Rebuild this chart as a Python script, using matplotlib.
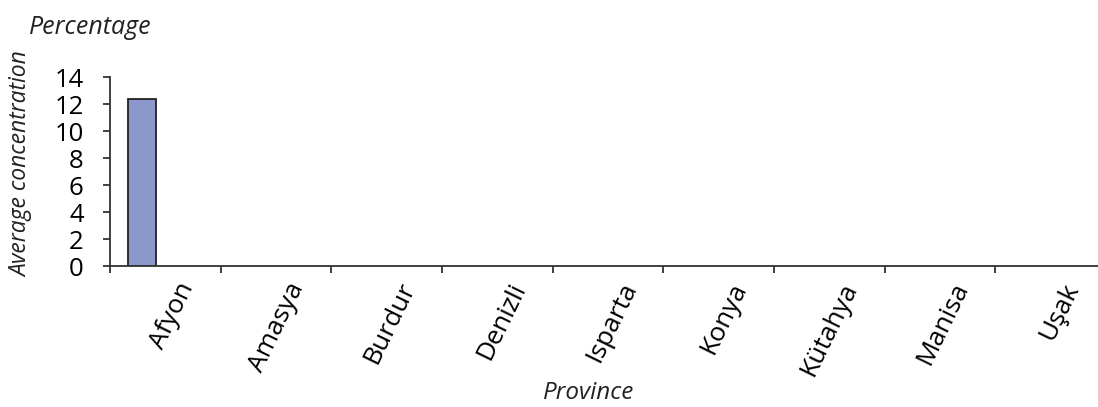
import matplotlib
matplotlib.use('Agg')
import matplotlib.pyplot as plt
import matplotlib.transforms as mtransforms
import numpy as np

provinces = ["Afyon", "Amasya", "Burdur", "Denizli", "Isparta", "Konya", "Kütahya", "Manisa", "Uşak"]
concentration = [12.4, 0, 0, 0, 0, 0, 0, 0, 0]
y_ticks = [0, 2, 4, 6, 8, 10, 12, 14]

plt.rcParams['font.family'] = ['Open Sans', 'DejaVu Sans']

fig = plt.figure(figsize=(10.98, 4.07), dpi=100)
ax = fig.add_axes([0.1002, 0.3464, 0.907, 0.4644])

x = np.arange(len(provinces))
heights = np.array(concentration)
mask = heights > 0
ax.bar(x[mask] - 0.21, heights[mask], width=0.26, color='#8c97cb',
       edgecolor='#222222', linewidth=1.3)

ax.set_xlim(-0.5, len(provinces) - 0.5)
ax.set_ylim(0, 14)
ax.set_yticks(y_ticks)
ax.set_yticklabels([str(v) for v in y_ticks], fontsize=18.5, fontweight='medium')

# category boundaries as ticks, names between them
ax.set_xticks(np.arange(len(provinces)) - 0.5)
ax.set_xticklabels([])
ax.set_xticks(x, minor=True)
ax.set_xticklabels(provinces, minor=True, rotation=64, fontsize=19,
                   ha='right', va='top', rotation_mode='anchor')
ax.tick_params(axis='x', which='minor', length=0, pad=9)
ax.tick_params(axis='x', which='major', length=5, width=1.3, color='#333333')
ax.tick_params(axis='y', length=5, width=1.3, color='#333333', pad=14)

offset = mtransforms.ScaledTranslation(11 / 100, 0, fig.dpi_scale_trans)
for lab in ax.get_xticklabels(minor=True):
    lab.set_transform(lab.get_transform() + offset)

for side in ['top', 'right']:
    ax.spines[side].set_visible(False)
for side in ['left', 'bottom']:
    ax.spines[side].set_linewidth(1.3)
    ax.spines[side].set_color('#333333')

fig.text(0.026, 0.963, "Percentage", fontsize=18, style='italic', color='#222222',
         va='top')
fig.text(0.019, 0.597, "Average concentration", fontsize=16.5, style='italic',
         rotation=90, ha='center', va='center', color='#222222')
fig.text(0.536, 0.02, "Province", fontsize=17.5, style='italic', ha='center',
         va='baseline', color='#222222')

fig.savefig("out.png", dpi=100)
